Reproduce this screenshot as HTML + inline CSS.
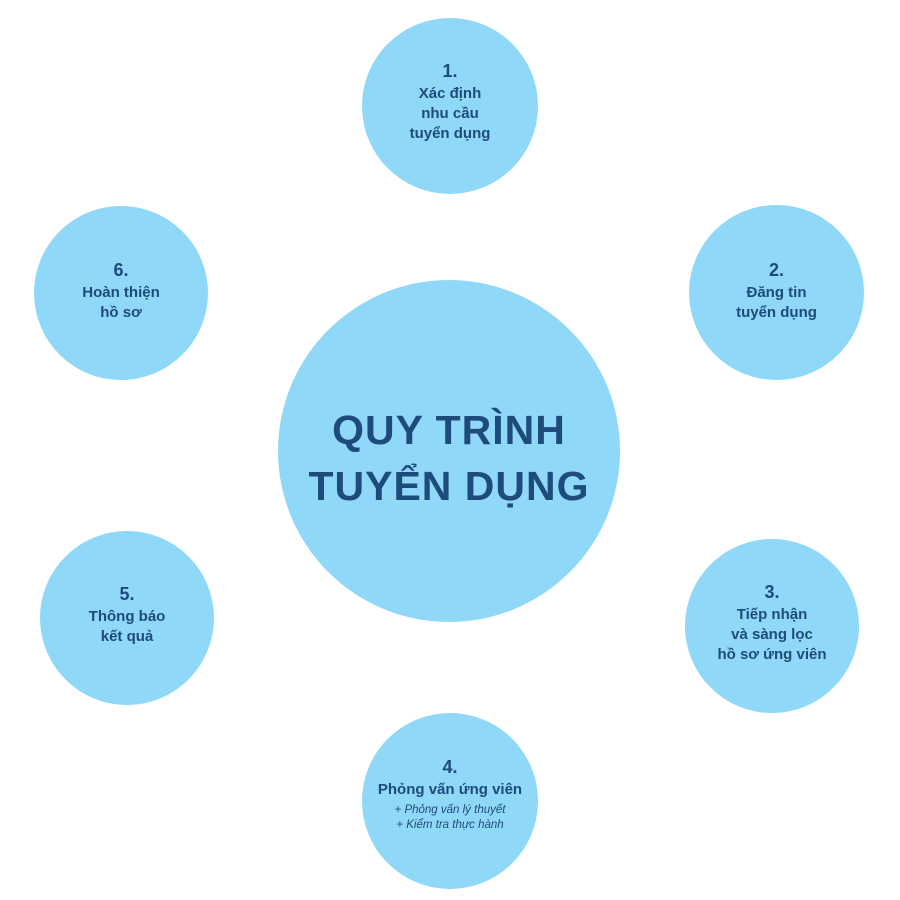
<!DOCTYPE html>
<html><head><meta charset="utf-8"><style>
body{margin:0;width:900px;height:900px;background:#fff;position:relative;overflow:hidden;font-family:"Liberation Sans",sans-serif;color:#1d4b7c}
.c{position:absolute;border-radius:50%;background:#8fd8f8;display:flex;flex-direction:column;align-items:center;justify-content:center;text-align:center;font-weight:bold;font-size:15px;line-height:20px}
.n{font-size:18px;line-height:22px;margin-bottom:2px}
.i{font-weight:normal;font-style:italic;font-size:11.5px;line-height:15px}
</style></head><body>
<div class="c" style="left:278px;top:280px;width:342px;height:342px;font-size:41px;line-height:56px;letter-spacing:1px"><div style="margin-top:14px">QUY TRÌNH<br>TUYỂN DỤNG</div></div>
<div class="c" style="left:362px;top:18px;width:176px;height:176px"><div style="margin-top:-8px"><div class="n">1.</div>Xác định<br>nhu cầu<br>tuyển dụng</div></div>
<div class="c" style="left:689px;top:205px;width:175px;height:175px"><div style="margin-top:-4px"><div class="n">2.</div>Đăng tin<br>tuyển dụng</div></div>
<div class="c" style="left:685px;top:539px;width:174px;height:174px"><div style="margin-top:-6px"><div class="n">3.</div>Tiếp nhận<br>và sàng lọc<br>hồ sơ ứng viên</div></div>
<div class="c" style="left:362px;top:713px;width:176px;height:176px"><div style="margin-top:-14px"><div class="n">4.</div>Phỏng vấn ứng viên<div class="i" style="margin-top:3px">+ Phỏng vấn lý thuyết<br>+ Kiểm tra thực hành</div></div></div>
<div class="c" style="left:40px;top:531px;width:174px;height:174px"><div style="margin-top:-6px"><div class="n">5.</div>Thông báo<br>kết quả</div></div>
<div class="c" style="left:34px;top:206px;width:174px;height:174px"><div style="margin-top:-4px"><div class="n">6.</div>Hoàn thiện<br>hồ sơ</div></div>
</body></html>
